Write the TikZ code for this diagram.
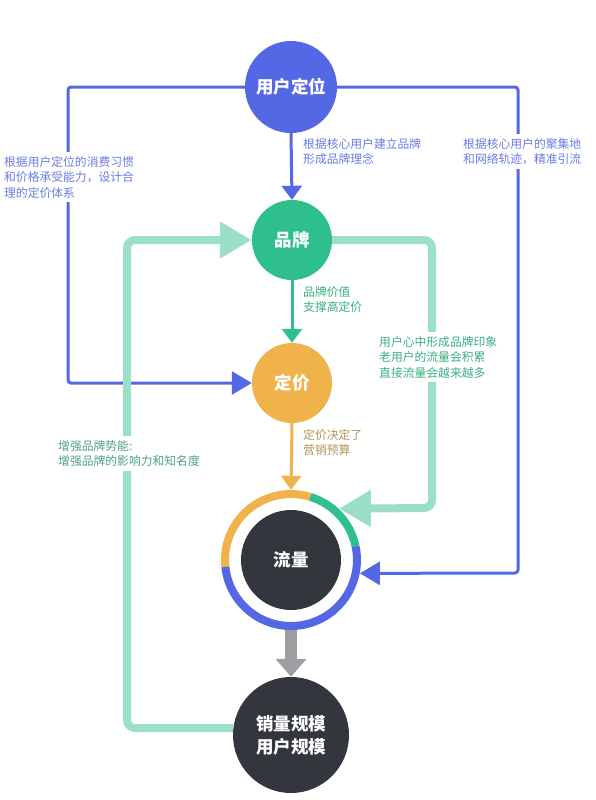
\documentclass[tikz,border=0pt]{standalone}
\usepackage{fontspec}
\setmainfont{Noto Sans CJK SC}
\usetikzlibrary{arrows.meta}
\definecolor{blueC}{HTML}{5468E5}
\definecolor{greenC}{HTML}{2EBF8C}
\definecolor{lightG}{HTML}{9BDFC6}
\definecolor{orangeC}{HTML}{F0B24A}
\definecolor{darkC}{HTML}{33373D}
\definecolor{grayC}{HTML}{9C9EA1}
\definecolor{blueT}{HTML}{6B7CE3}
\definecolor{greenT}{HTML}{3BAF7E}
\definecolor{orangeT}{HTML}{B5935A}
\definecolor{lgT}{HTML}{4FA27E}
\begin{document}
\begin{tikzpicture}[x=1pt,y=-1pt,
  circ/.style={circle,inner sep=0pt,text=white,font=\fontsize{17.5}{23}\selectfont\bfseries,align=center},
  lbl/.style={anchor=north west,fill=white,inner xsep=3pt,inner ysep=4pt,align=left,font=\fontsize{11.8}{15.5}\selectfont},
  blueline/.style={draw=blueC,line width=3pt,rounded corners=3pt},
  bluetip/.style={-{Triangle[length=20pt,width=23pt]}},
  smalltip/.style={-{Triangle[length=14pt,width=20pt]}},
  fatline/.style={draw=lightG,line width=8pt,rounded corners=8pt,-{Triangle[length=32pt,width=35pt]}},
  ]
\useasboundingbox (0,0) rectangle (596,800);
% nodes
\node[circ,fill=blueC,minimum size=92pt] (yhdw) at (291,87) {用户定位};
\node[circ,fill=greenC,minimum size=80pt] (pp) at (292,240) {品牌};
\node[circ,fill=orangeC,minimum size=80pt] (dj) at (292,383) {定价};
\node[circle,inner sep=0pt,minimum size=140pt] (ll) at (291,560) {};
\node[circ,fill=darkC,minimum size=100pt] (llin) at (291,560) {流量};
\node[circ,fill=darkC,minimum size=116pt] (xl) at (291,735) {销量规模\\用户规模};
% ring
\draw[orangeC,line width=8pt] ([shift={(73:66pt)}]ll.center) arc[start angle=73,end angle=186,radius=66pt];
\draw[greenC,line width=8pt] ([shift={(12:66pt)}]ll.center) arc[start angle=12,end angle=73,radius=66pt];
\draw[blueC,line width=8pt] ([shift={(186:66pt)}]ll.center) arc[start angle=186,end angle=372,radius=66pt];
% corner coordinates
\coordinate (bl1) at (68,87);
\coordinate (bl2) at (68,383);
\coordinate (br1) at (518,87);
\coordinate (br2) at (518,573);
\coordinate (gr1) at (432,240);
\coordinate (gr2) at (432,508);
\coordinate (gl1) at (127,728);
\coordinate (gl2) at (127,240);
% connectors
\draw[blueline,bluetip] (yhdw.west) -- (bl1) -- (bl2) -- (dj.west);
\draw[blueline,bluetip] (yhdw.east) -- (br1) -- (br2) -- (ll.-11);
\draw[draw=blueC,line width=3pt,smalltip] (yhdw.south) -- (pp.north);
\draw[draw=greenC,line width=3pt,smalltip] (pp.south) -- (dj.north);
\draw[draw=orangeC,line width=3pt,smalltip] (dj.south) -- (ll.north);
\draw[fatline] (pp.east) -- (gr1) -- (gr2) -- (ll.47);
\draw[fatline] (xl.west |- gl1) -- (gl1) -- (gl2) -- (pp.west);
\draw[draw=grayC,line width=12pt,-{Triangle[length=18pt,width=30pt]}] (ll.south) -- (xl.north);
% labels
\node[lbl,text=blueT] (t1) at (1,152) {根据用户定位的消费习惯\\和价格承受能力，设计合\\理的定价体系};
\node[lbl,text=blueT] (t2) at (300,134) {根据核心用户建立品牌\\形成品牌理念};
\node[lbl,text=blueT] (t3) at (460,134) {根据核心用户的聚集地\\和网络轨迹，精准引流};
\node[lbl,text=greenT] (t4) at (300,282) {品牌价值\\支撑高定价};
\node[lbl,text=greenT] (t5) at (376,332) {用户心中形成品牌印象\\老用户的流量会积累\\直接流量会越来越多};
\node[lbl,text=orangeT] (t6) at (300,425) {定价决定了\\营销预算};
\node[lbl,text=lgT] (t7) at (55,436) {增强品牌势能:\\增强品牌的影响力和知名度};
\end{tikzpicture}
\end{document}
